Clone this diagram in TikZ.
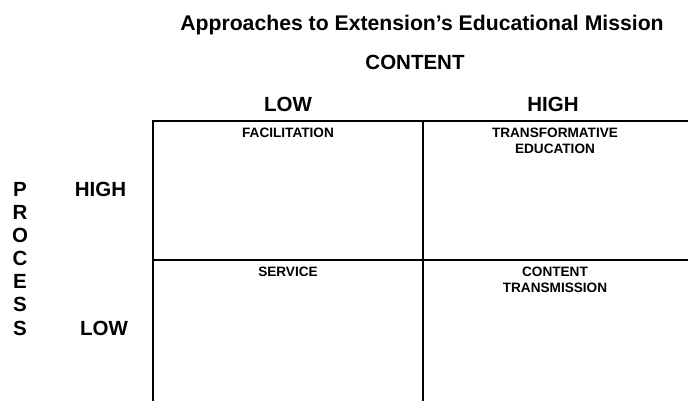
\documentclass[tikz,border=0pt]{standalone}
\usepackage{fontspec}
\setmainfont{Liberation Sans}

\begin{document}
\begin{tikzpicture}[x=1pt,y=-1pt,
        heading/.style={anchor=base,inner sep=0pt,font=\fontsize{20.5}{24}\selectfont\bfseries},
        cellname/.style={anchor=north,inner sep=0pt,align=center,font=\fontsize{13.6}{16}\selectfont\bfseries},
        grid/.style={line width=2.4pt}]
    \useasboundingbox (0,0) rectangle (688,401);
    % headings
    \node[heading,font=\fontsize{21.2}{25}\selectfont\bfseries] (title) at (422,31) {Approaches to Extension’s Educational Mission};
    \node[heading] (content) at (415,70) {CONTENT};
    \node[heading] (contentlow) at (288,112) {LOW};
    \node[heading] (contenthigh) at (553,112) {HIGH};
    \node[heading] (processhigh) at (100.5,196) {HIGH};
    \node[heading] (processlow) at (104,335) {LOW};
    \foreach \L [count=\i from 0] in {P,R,O,C,E,S,S}
        {\node[heading] (process\i) at (20,196+23.17*\i) {\L};}
    % the grid
    \draw[grid] (688,121) -- (153,121) -- (153,401);
    \draw[grid] (423,121) -- (423,401);
    \draw[grid] (153,260) -- (688,260);
    % quadrants
    \node[cellname] (facilitation) at (288,128) {FACILITATION};
    \node[cellname] (transformative) at (555,128) {TRANSFORMATIVE\\EDUCATION};
    \node[cellname] (service) at (288,267) {SERVICE};
    \node[cellname] (transmission) at (555,267) {CONTENT\\TRANSMISSION};
\end{tikzpicture}
\end{document}
